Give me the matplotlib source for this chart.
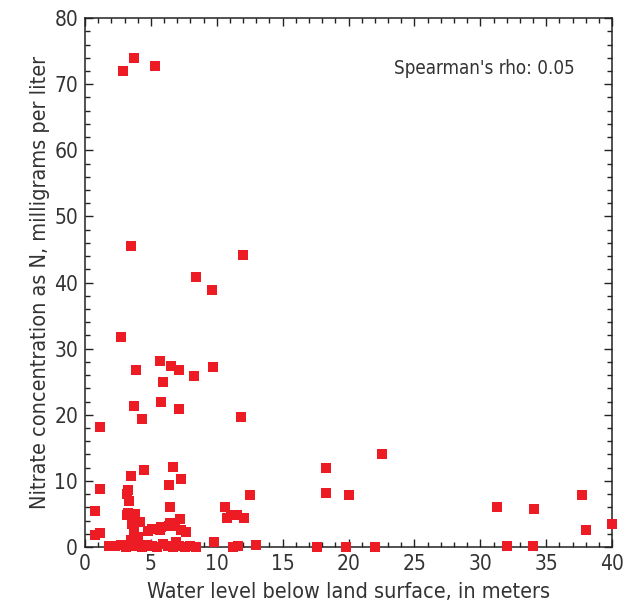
import matplotlib
matplotlib.use("Agg")
import matplotlib.pyplot as plt
from matplotlib.ticker import MultipleLocator

plt.rcParams['font.family'] = ['DejaVu Sans']
plt.rcParams['font.stretch'] = 'condensed'

# depth to water (m) and nitrate (mg/L as N) for each well
water_level = [
    2.9, 3.7, 5.3,
    3.5, 12.0,
    8.45, 9.6,
    2.7,
    5.7, 6.55, 7.1, 3.9, 9.75,
    5.95, 8.3,
    3.75, 5.8, 7.1, 4.35, 11.8,
    1.15,
    18.3, 18.3, 20.05, 22.5,
    17.6, 19.8, 22.0,
    31.3, 32.0, 34.1, 34.0, 37.7, 38.0, 40.0,
    4.5, 6.7, 3.5, 7.3,
    1.15, 3.3, 3.2, 6.4,
    3.35, 0.75, 6.45, 10.6, 12.55,
    3.15, 3.3, 3.8, 4.2, 7.2, 10.75, 11.1, 11.5, 12.1,
    5.05, 5.8, 6.45, 6.4, 6.85, 7.7, 7.3,
    0.75, 1.1, 4.8, 5.7,
    3.5, 3.7, 3.6, 4.0,
    9.8, 6.9, 13.0,
    1.8, 2.3, 2.7, 3.1, 3.5, 3.9, 4.3, 4.7, 5.1, 5.5, 5.9, 6.3, 6.7,
    7.1, 7.6, 8.0, 8.4, 11.2, 11.6,
]
nitrate = [
    72.0, 74.0, 72.8,
    45.6, 44.1,
    40.9, 38.8,
    31.7,
    28.2, 27.4, 26.8, 26.7, 27.3,
    25.0, 25.8,
    21.4, 22.0, 20.8, 19.4, 19.7,
    18.2,
    12.0, 8.2, 7.8, 14.0,
    0.0, 0.0, 0.0,
    6.1, 0.2, 5.8, 0.2, 7.8, 2.6, 3.5,
    11.7, 12.1, 10.8, 10.3,
    8.8, 8.6, 8.0, 9.4,
    7.0, 5.5, 6.1, 6.1, 7.9,
    4.8, 5.1, 5.0, 3.8, 4.3, 4.4, 4.8, 4.8, 4.4,
    2.8, 3.1, 3.6, 3.2, 3.2, 2.3, 2.6,
    1.8, 2.1, 2.4, 2.6,
    1.1, 2.5, 3.5, 1.5,
    0.8, 0.8, 0.3,
    0.2, 0.1, 0.3, 0.0, 0.2, 0.1, 0.0, 0.3, 0.1, 0.0, 0.4, 0.1, 0.0,
    0.2, 0.0, 0.1, 0.0, 0.0, 0.1,
]
rho = 0.05

text_color = "#333333"

fig = plt.figure(figsize=(6.26, 6.08), dpi=100)
ax = fig.add_axes([0.1358, 0.1003, 0.842, 0.870])

ax.scatter(water_level, nitrate, marker="s", s=62, color="#ED1C24",
           linewidths=0, clip_on=False, zorder=3)

ax.set_xlim(0, 40)
ax.set_ylim(0, 80)
ax.xaxis.set_major_locator(MultipleLocator(5))
ax.xaxis.set_minor_locator(MultipleLocator(1))
ax.yaxis.set_major_locator(MultipleLocator(10))
ax.yaxis.set_minor_locator(MultipleLocator(2))

ax.tick_params(which="both", direction="in", top=True, right=True,
               colors="#222222", labelcolor=text_color, labelsize=15, width=1)
ax.tick_params(which="major", length=6, pad=5)
ax.tick_params(which="minor", length=3.5)
for sp in ax.spines.values():
    sp.set_linewidth(1.1)
    sp.set_color("#222222")

ax.set_xlabel("Water level below land surface, in meters", fontsize=15.5,
              color=text_color, labelpad=6)
ax.set_ylabel("Nitrate concentration as N, milligrams per liter", fontsize=15.5,
              color=text_color, labelpad=3)

ax.text(0.93, 0.905, f"Spearman's rho: {rho:.2f}", transform=ax.transAxes,
        ha="right", va="center", fontsize=13.5, color=text_color)

plt.savefig("out.png", dpi=100)
